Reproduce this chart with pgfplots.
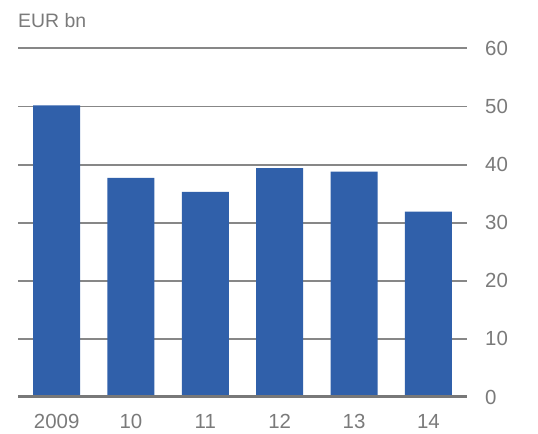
\documentclass[border=0pt]{standalone}
\usepackage{fontspec}
\setmainfont{Liberation Sans}
\usepackage{pgfplots}
\pgfplotsset{compat=1.18}
\definecolor{barblue}{HTML}{3060AA}
\definecolor{txtgray}{HTML}{7A7A7A}
\definecolor{gridgray}{HTML}{878787}
\definecolor{zerogray}{HTML}{787878}
\begin{document}
\begin{tikzpicture}[x=1bp,y=1bp]
\useasboundingbox (0,0) rectangle (538,-434);
\node[anchor=base west, inner sep=0pt, text=txtgray, font=\fontsize{19.5}{22}\selectfont] at (18,-27.5) {EUR bn};
\begin{axis}[
  at={(18bp,-48.4bp)}, anchor=north west,
  scale only axis, width=449bp, height=348.6bp,
  xmin=-0.52, xmax=5.52, ymin=0, ymax=60,
  axis line style={draw=none},
  major tick length=0pt,
  ymajorgrids,
  grid style={gridgray, line width=1.8bp},
  ytick={0,10,20,30,40,50,60},
  yticklabel pos=right,
  xtick=data,
  xticklabels={2009,10,11,12,13,14},
  /pgf/number format/assume math mode=true,
  tick label style={font=\fontsize{20.5}{23}\selectfont, text=txtgray},
  yticklabel style={anchor=west, inner sep=0pt, xshift=18bp},
  xticklabel style={anchor=north, inner sep=0pt, yshift=-17.5bp},
  ybar, bar width=47bp,
]
\addplot[fill=barblue, draw=none] coordinates {(0,50.2) (1,37.7) (2,35.3) (3,39.4) (4,38.8) (5,31.9)};
\draw[zerogray, line width=3.5bp] (axis cs:-0.52,0) -- (axis cs:5.52,0);
\end{axis}
\end{tikzpicture}
\end{document}
